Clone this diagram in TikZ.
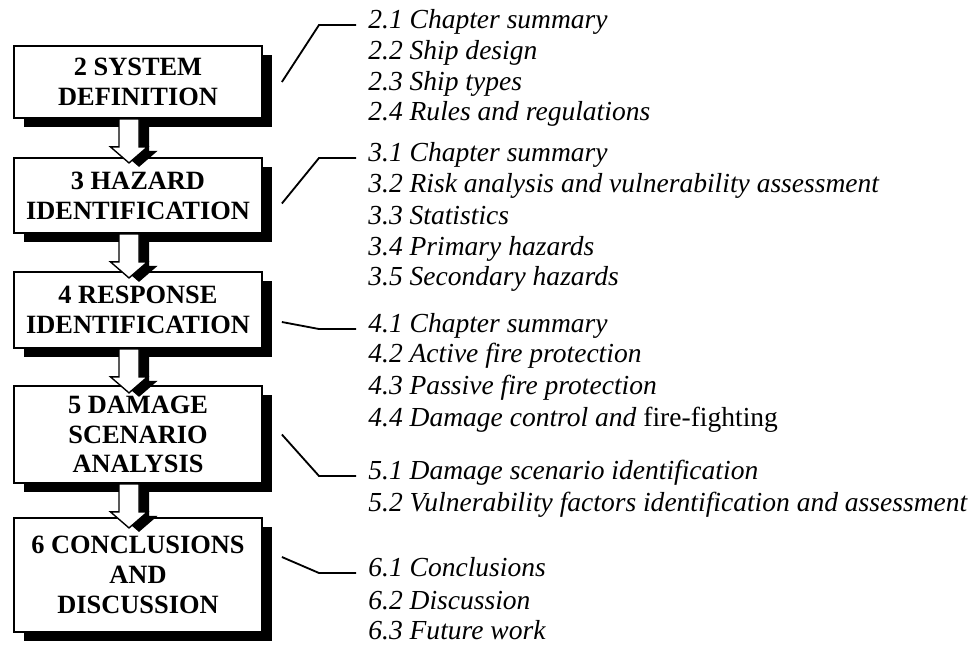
\documentclass[tikz,border=0pt]{standalone}
\usepackage{fontspec}
\setmainfont{Liberation Serif}
\usetikzlibrary{calc}
\usetikzlibrary{shadows}
\tikzset{>=latex}
\tikzstyle{stage}=[draw=black,fill=white,line width=0.8pt,minimum width=108.1pt,
  align=center,inner sep=0pt,font=\bfseries\fontsize{11.5}{13}\selectfont,
  drop shadow={fill=black,opacity=1,shadow xshift=4.4pt,shadow yshift=-3.9pt}]
\tikzstyle{item}=[anchor=base west,inner xsep=5.2pt,inner ysep=0pt,
  font=\itshape\fontsize{12}{14}\selectfont]
\tikzstyle{link}=[draw=black,line width=0.8pt]
\tikzstyle{flow}=[draw=black,fill=white,line width=0.6pt,line join=miter]
\newcommand{\blockarrow}{++(-10,0) -- ++(0,28) -- ++(-8.5,0) -- ++(18.5,16)
  -- ++(18.5,-16) -- ++(-8.5,0) -- ++(0,-28) -- cycle}

\begin{document}
\begin{tikzpicture}[x=0.436pt,y=-0.436pt]
  \useasboundingbox (0,0) rectangle (971,644);

  % chapter boxes
  \node[stage,minimum height=31.4pt] (ch2) at (138,82)    {2 SYSTEM\\DEFINITION};
  \node[stage,minimum height=32.7pt] (ch3) at (138,195.5) {3 HAZARD\\IDENTIFICATION};
  \node[stage,minimum height=33.1pt] (ch4) at (138,310)   {4 RESPONSE\\IDENTIFICATION};
  \node[stage,minimum height=42.3pt] (ch5) at (138,434.5) {5 DAMAGE\\SCENARIO\\ANALYSIS};
  \node[stage,minimum height=49.7pt] (ch6) at (138,575)   {6 CONCLUSIONS\\AND\\DISCUSSION};

  % block arrows between the boxes
  \foreach \a in {ch2,ch3,ch4,ch5} {
    \fill[black] ($(\a.south)+(1,4)$) \blockarrow;
    \draw[flow] ($(\a.south)+(-9,0)$) \blockarrow;
  }

  % section lists
  \foreach \n/\y/\t in {21/28/2.1 Chapter summary, 22/59/2.2 Ship design,
      23/90/2.3 Ship types, 24/120/2.4 Rules and regulations,
      31/161/3.1 Chapter summary, 32/192/3.2 Risk analysis and vulnerability assessment,
      33/224/3.3 Statistics, 34/255/3.4 Primary hazards, 35/285/3.5 Secondary hazards,
      41/332/4.1 Chapter summary, 42/362/4.2 Active fire protection,
      43/394/4.3 Passive fire protection,
      44/426/4.4 Damage control and \textup{fire-fighting},
      51/479/5.1 Damage scenario identification,
      52/511/5.2 Vulnerability factors identification and assessment,
      61/576/6.1 Conclusions, 62/609/6.2 Discussion, 63/639/6.3 Future work}
    \node[item] (i\n) at (356,\y) {\t};

  % leader lines
  \foreach \k/\dy in {2/0,3/8,4/12,5/0,6/-18} {
    \coordinate (t\k) at ($(i\k1.base west)+(0,-3)$);
    \draw[link] ($(ch\k.east)+(19,\dy)$) -- ($(t\k)+(-37,0)$) -- (t\k);
  }
\end{tikzpicture}
\end{document}
